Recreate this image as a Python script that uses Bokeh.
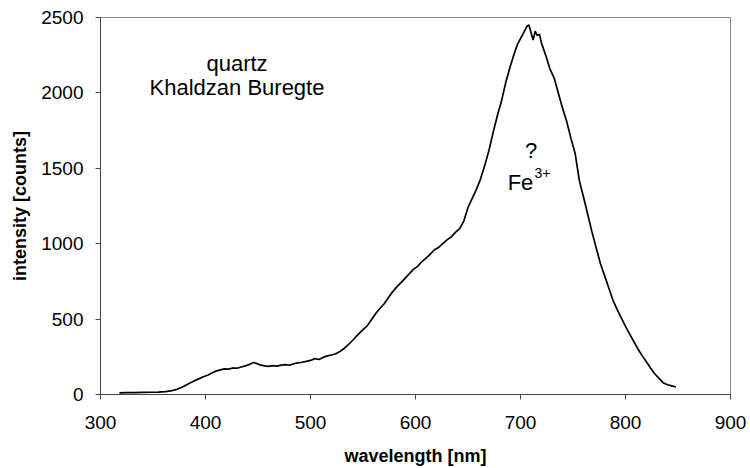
from bokeh.plotting import figure
from bokeh.models import Range1d, SingleIntervalTicker, Label, ColumnDataSource
from bokeh.embed import file_html
from bokeh.resources import INLINE

# Spectrum (wavelength nm, intensity counts)
wavelength = [318, 325, 332, 340, 348, 355, 362, 368, 373, 378, 383, 388, 393, 398,
              402, 406, 410, 414, 418, 422, 426, 430, 434, 438, 442, 446, 449, 452,
              456, 460, 464, 468, 472, 476, 480, 484, 488, 492, 496, 500, 504, 508,
              512, 516, 520, 524, 528, 532, 536, 540, 545, 550, 554, 558, 562, 566,
              570, 574, 578, 582, 586, 590, 594, 598, 602, 606, 610, 614, 618, 622,
              626, 630, 634, 638, 642, 646, 650, 654, 658, 662, 666, 670, 674, 678,
              682, 686, 690, 694, 697, 700, 703, 706, 708, 710, 712, 714, 716, 718,
              720, 724, 728, 732, 736, 740, 744, 748, 752, 756, 760, 764, 768, 772,
              776, 780, 784, 788, 792, 796, 800, 804, 808, 812, 816, 820, 824, 828,
              832, 836, 840, 844, 848]
intensity = [11, 12, 13, 14, 15, 16, 19, 26, 35, 50, 68, 86, 102, 118,
             128, 142, 155, 163, 170, 168, 176, 174, 182, 190, 200, 212, 205, 196,
             190, 186, 192, 188, 195, 198, 194, 204, 210, 214, 220, 226, 238, 232,
             246, 256, 262, 270, 285, 305, 330, 358, 395, 430, 455, 495, 535, 570,
             600, 640, 680, 712, 740, 770, 800, 830, 850, 880, 905, 930, 960, 975,
             1000, 1025, 1045, 1075, 1100, 1150, 1240, 1300, 1360, 1430, 1520, 1620, 1740, 1850,
             1950, 2070, 2170, 2260, 2320, 2360, 2400, 2440, 2450, 2400, 2350, 2410, 2380, 2390,
             2330, 2250, 2160, 2100, 2000, 1900, 1810, 1700, 1600, 1420, 1310, 1195, 1080, 975,
             871, 790, 708, 626, 564, 508, 452, 400, 350, 300, 256, 215, 174, 136,
             107, 77, 65, 57, 50]

x_ticks_interval = 100
y_ticks_interval = 500

FONT = "Liberation Sans"

p = figure(width=750, height=468, output_backend="svg", toolbar_location=None,
           x_range=Range1d(300, 900), y_range=Range1d(0, 2500),
           min_border_left=100, min_border_right=20, min_border_top=17, min_border_bottom=73)

src = ColumnDataSource(dict(x=wavelength, y=intensity))
p.line("x", "y", source=src, line_color="black", line_width=1.7)

p.xgrid.visible = False
p.ygrid.visible = False
p.outline_line_color = "#888888"
p.outline_line_width = 1
p.background_fill_color = "white"
p.border_fill_color = "white"

p.xaxis.ticker = SingleIntervalTicker(interval=x_ticks_interval)
p.yaxis.ticker = SingleIntervalTicker(interval=y_ticks_interval)
for ax in (p.xaxis[0], p.yaxis[0]):
    ax.axis_line_color = "#444444"
    ax.major_tick_line_color = "#444444"
    ax.major_tick_in = 0
    ax.major_tick_out = 5
    ax.minor_tick_line_color = None
    ax.major_label_text_font = FONT
    ax.major_label_text_font_size = "19px"
    ax.major_label_text_color = "black"
    ax.axis_label_text_font = FONT
    ax.axis_label_text_font_size = "18px"
    ax.axis_label_text_font_style = "bold"
    ax.axis_label_text_color = "black"

p.xaxis.axis_label = "wavelength [nm]"
p.yaxis.axis_label = "intensity [counts]"
p.xaxis.major_label_standoff = 16
p.yaxis.major_label_standoff = 12
p.xaxis.axis_label_standoff = 14
p.yaxis.axis_label_standoff = 8

ann_size = "22px"
p.add_layout(Label(x=430, y=2196, text="quartz", text_font=FONT, text_font_size=ann_size,
                   text_align="center", text_baseline="middle", text_color="black"))
p.add_layout(Label(x=430, y=2037, text="Khaldzan Buregte", text_font=FONT, text_font_size=ann_size,
                   text_align="center", text_baseline="middle", text_color="black"))
p.add_layout(Label(x=710, y=1620, text="?", text_font=FONT, text_font_size=ann_size,
                   text_align="center", text_baseline="middle", text_color="black"))
p.add_layout(Label(x=700, y=1409, text="Fe", text_font=FONT, text_font_size=ann_size,
                   text_align="center", text_baseline="middle", text_color="black"))
p.add_layout(Label(x=721, y=1468, text="3+", text_font=FONT, text_font_size="14px",
                   text_align="center", text_baseline="middle", text_color="black"))

open("out.html", "w").write(file_html(p, INLINE))
